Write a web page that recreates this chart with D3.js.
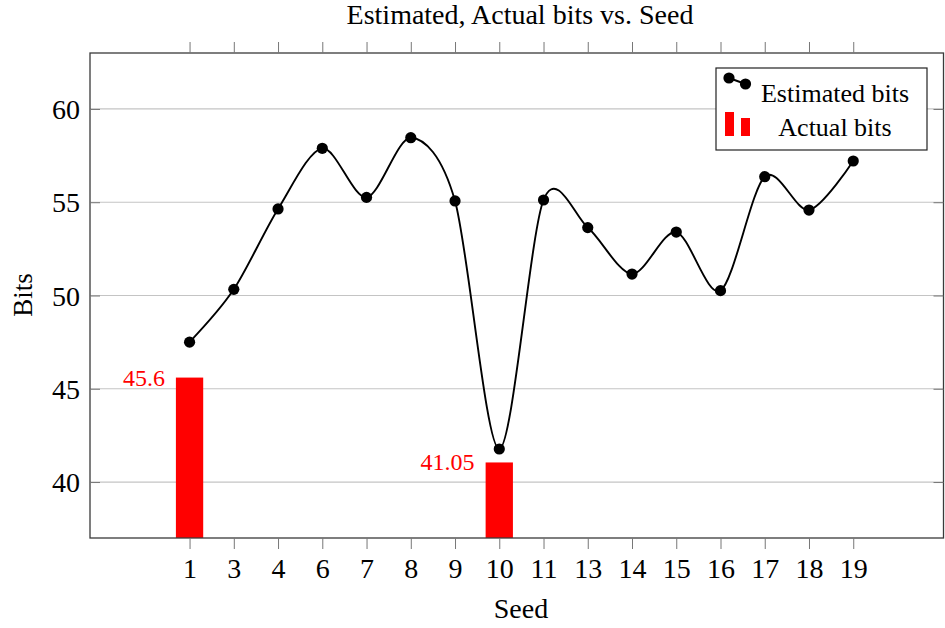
<!DOCTYPE html>
<html>
<head>
<meta charset="utf-8">
<script src="https://cdn.jsdelivr.net/npm/d3@7"></script>
<style>
  body { margin: 0; background: #fff; }
  svg { display: block; }
</style>
</head>
<body>
<svg id="chart" width="945" height="628" style="font-family: 'Liberation Serif', 'DejaVu Serif', serif;"></svg>
<script>
// ---- data ----
const seeds = ["1","3","4","6","7","8","9","10","11","13","14","15","16","17","18","19"];
const estimatedBits = [47.5, 50.33, 54.64, 57.89, 55.26, 58.46, 55.07, 41.77, 55.12, 53.64, 51.15, 53.4, 50.26, 56.37, 54.58, 57.21];
const actualSeeds = ["1", "10"];
const actualBits = [45.6, 41.05];
const yTicks = [40, 45, 50, 55, 60];
const yDomain = [37, 63];

const FONT = "'Liberation Serif', 'DejaVu Serif', serif";

// ---- layout ----
const svg = d3.select("#chart");
const L = 90, R = 943.5, T = 53, B = 538;

const x = d3.scaleLinear().domain([-2.25, seeds.length - 1 + 2.04]).range([L, R]);
const xs = s => x(seeds.indexOf(s));
const y = d3.scaleLinear().domain(yDomain).range([B, T]);

function txt(sel, size, color) {
  return sel.style("font-family", FONT).style("font-size", size + "px").style("fill", color || "#000");
}

// grid
svg.append("g").selectAll("line").data(yTicks).join("line")
  .attr("x1", L).attr("x2", R)
  .attr("y1", d => y(d)).attr("y2", d => y(d))
  .attr("stroke", "#c4c4c4").attr("stroke-width", 1.2);

// bars
const barW = 27.3;
const bars = actualSeeds.map((s, i) => ({ s, v: actualBits[i] }));
svg.append("g").selectAll("rect").data(bars).join("rect")
  .attr("x", d => xs(d.s) - barW / 2)
  .attr("y", d => y(d.v))
  .attr("width", barW)
  .attr("height", d => B - y(d.v))
  .attr("fill", "#ff0000");

txt(svg.append("g").selectAll("text").data(bars).join("text")
  .attr("x", d => xs(d.s) - barW / 2 - 11)
  .attr("y", d => y(d.v) + 8)
  .attr("text-anchor", "end"), 24, "#ff0000")
  .text(d => String(d.v));

// line
const pts = seeds.map((s, i) => [xs(s), y(estimatedBits[i])]);
svg.append("path")
  .attr("d", d3.line().curve(d3.curveCardinal.tension(0.1))(pts))
  .attr("fill", "none").attr("stroke", "#000").attr("stroke-width", 1.9);
svg.append("g").selectAll("circle").data(pts).join("circle")
  .attr("cx", d => d[0]).attr("cy", d => d[1]).attr("r", 5.6).attr("fill", "#000");

// axes box
svg.append("rect").attr("x", L).attr("y", T).attr("width", R - L).attr("height", B - T)
  .attr("fill", "none").attr("stroke", "#3a3a3a").attr("stroke-width", 1.3);

// x ticks (bottom + top, outward)
const xAxisB = d3.axisBottom(x).tickValues(d3.range(seeds.length)).tickSize(11).tickFormat(i => seeds[i]);
const gxb = svg.append("g").attr("transform", `translate(0,${B})`).call(xAxisB);
gxb.attr("font-family", null);
gxb.select(".domain").remove();
gxb.selectAll(".tick line").attr("stroke", "#777");
txt(gxb.selectAll(".tick text").attr("dy", null).attr("y", 40), 28);

const xAxisT = d3.axisTop(x).tickValues(d3.range(seeds.length)).tickSize(11).tickFormat("");
const gxt = svg.append("g").attr("transform", `translate(0,${T})`).call(xAxisT);
gxt.select(".domain").remove();
gxt.selectAll(".tick line").attr("stroke", "#777");

// y ticks (left, inward) with labels
const yAxisL = d3.axisLeft(y).tickValues(yTicks).tickSize(-10);
const gyl = svg.append("g").attr("transform", `translate(${L},0)`).call(yAxisL);
gyl.attr("font-family", null);
gyl.select(".domain").remove();
gyl.selectAll(".tick line").attr("stroke", "#777");
txt(gyl.selectAll(".tick text").attr("x", -10).attr("dy", "0.34em"), 28);

const yAxisR = d3.axisRight(y).tickValues(yTicks).tickSize(-10).tickFormat("");
const gyr = svg.append("g").attr("transform", `translate(${R},0)`).call(yAxisR);
gyr.select(".domain").remove();
gyr.selectAll(".tick line").attr("stroke", "#777");

// titles
txt(svg.append("text").attr("x", 520).attr("y", 24).attr("text-anchor", "middle"), 28)
  .text("Estimated, Actual bits vs. Seed");
txt(svg.append("text").attr("x", 521).attr("y", 618).attr("text-anchor", "middle"), 28)
  .text("Seed");
txt(svg.append("text").attr("transform", "translate(32,295) rotate(-90)").attr("text-anchor", "middle"), 27)
  .text("Bits");

// legend
const lg = svg.append("g");
lg.append("rect").attr("x", 716).attr("y", 68).attr("width", 211).attr("height", 82)
  .attr("fill", "#fff").attr("stroke", "#222").attr("stroke-width", 1.2);
lg.append("line").attr("x1", 729).attr("y1", 78).attr("x2", 745.5).attr("y2", 84)
  .attr("stroke", "#000").attr("stroke-width", 1.9);
lg.append("circle").attr("cx", 729).attr("cy", 78).attr("r", 5.6).attr("fill", "#000");
lg.append("circle").attr("cx", 745.5).attr("cy", 84).attr("r", 5.6).attr("fill", "#000");
lg.append("rect").attr("x", 725).attr("y", 112).attr("width", 9).attr("height", 24).attr("fill", "#ff0000");
lg.append("rect").attr("x", 741).attr("y", 118).attr("width", 9).attr("height", 18).attr("fill", "#ff0000");
txt(lg.append("text").attr("x", 835).attr("y", 102).attr("text-anchor", "middle"), 26)
  .text("Estimated bits");
txt(lg.append("text").attr("x", 835).attr("y", 136).attr("text-anchor", "middle"), 26)
  .text("Actual bits");
</script>
</body>
</html>
